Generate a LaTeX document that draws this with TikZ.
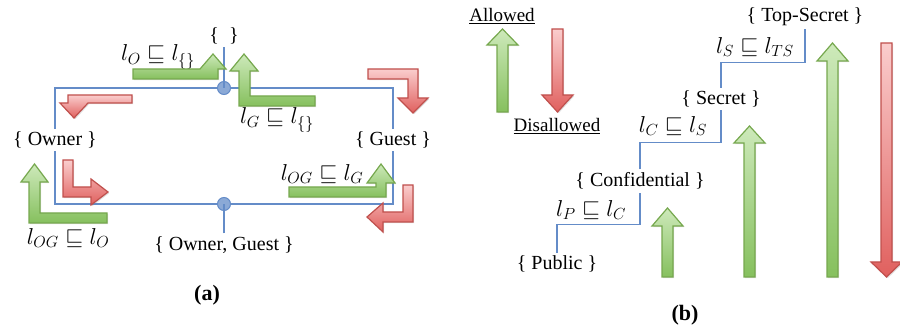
\RequirePackage{fix-cm}
\documentclass[tikz,border=0pt]{standalone}
\usepackage{fontspec}
\setmainfont{Liberation Serif}
\usetikzlibrary{shadows}
\definecolor{latblue}{RGB}{100,140,200}
\definecolor{grnline}{RGB}{118,168,78}
\definecolor{grnlight}{RGB}{205,233,186}
\definecolor{grndark}{RGB}{134,192,94}
\definecolor{redline}{RGB}{192,80,77}
\definecolor{redlight}{RGB}{250,205,205}
\definecolor{reddark}{RGB}{224,96,94}

\tikzset{
  okarrow/.style={draw=grnline, line width=1.2pt, top color=grnlight, bottom color=grndark,
    drop shadow={shadow xshift=1.2pt, shadow yshift=-1.2pt, opacity=0.25}},
  noarrow/.style={draw=redline, line width=1.2pt, top color=redlight, bottom color=reddark,
    drop shadow={shadow xshift=1.2pt, shadow yshift=-1.2pt, opacity=0.25}},
  lattice/.style={draw=latblue, line width=1.7pt},
  joint/.style={circle, draw=latblue, fill=latblue!75, line width=1pt, minimum size=13pt, inner sep=0pt},
  level/.style={font=\fontsize{20}{22}\selectfont, inner sep=3pt},
  order/.style={font=\fontsize{23}{25}\selectfont, inner sep=0pt},
  caption/.style={font=\fontsize{22}{24}\selectfont\bfseries}
}

\begin{document}
\begin{tikzpicture}[x=1pt,y=-1pt]
  \useasboundingbox (0,0) rectangle (900,331);
  % (a) lattice of owner sets
  \node[level] (empty) at (224,36) {\{\ \ \}};
  \node[level] (owner) at (55,140) {\{ Owner \}};
  \node[level] (guest) at (393,140) {\{ Guest \}};
  \node[level] (both) at (224,245) {\{ Owner, Guest \}};
  \coordinate (topjoin) at (224,88);
  \coordinate (botjoin) at (224,204);
  \draw[lattice] (owner.north) |- (topjoin) -| (guest.north);
  \draw[lattice] (owner.south) |- (botjoin) -| (guest.south);
  \node[joint] (topdot) at (topjoin) {};
  \node[joint] (botdot) at (botjoin) {};
  \draw[lattice] (empty.south) -- (topdot.center);
  \draw[lattice] (both.north) -- (botdot.center);
  \node[order] at (158,57) {$l_O \sqsubseteq l_{\{\}}$};
  \node[order] at (277,120) {$l_G \sqsubseteq l_{\{\}}$};
  \node[order] at (322,174) {$l_{OG} \sqsubseteq l_G$};
  \node[order] at (68,238) {$l_{OG} \sqsubseteq l_O$};
  % bent arrows, green = allowed flow
  \draw[okarrow] (133,69)--(200,69)--(213,54)--(226,69)--(218,69)--(218,79)--(133,79)--cycle;
  \draw[okarrow] (244,54)--(258,71)--(250,71)--(250,96)--(315,96)--(315,106)--(239,106)--(239,71)--(230,71)--cycle;
  \draw[okarrow] (34.5,164)--(48,182)--(40,182)--(40,213)--(107,213)--(107,223)--(29,223)--(29,182)--(21,182)--cycle;
  \draw[okarrow] (289,187)--(376,187)--(376,183)--(367,183)--(381,164)--(395,183)--(386,183)--(386,197)--(289,197)--cycle;
  % bent arrows, red = disallowed flow
  \draw[noarrow] (368,69)--(418,69)--(418,98)--(428,98)--(413,113)--(398,98)--(408,98)--(408,79)--(368,79)--cycle;
  \draw[noarrow] (132,95)--(68,95)--(68,103)--(60,103)--(74,118)--(88,103)--(132,103)--cycle;
  \draw[noarrow] (63,160)--(73,160)--(73,187)--(91,187)--(91,179)--(108,192)--(91,205)--(91,197)--(63,197)--cycle;
  \draw[noarrow] (403,185)--(413,185)--(413,222)--(383,222)--(383,232)--(367,217)--(383,203)--(383,212)--(403,212)--cycle;
  \node[caption] (capa) at (207,295) {(a)};

  % (b) chain of security levels
  \node[level] (topsecret) at (805,17) {\{ Top-Secret \}};
  \node[level] (secret) at (721,99) {\{ Secret \}};
  \node[level] (confid) at (640,181) {\{ Confidential \}};
  \node[level] (public) at (557,264) {\{ Public \}};
  \draw[lattice] (public.north) --++(0,-28) -| (confid.south);
  \draw[lattice] (confid.north) --++(0,-27) -| (secret.south);
  \draw[lattice] (secret.north) --++(0,-25) -| (topsecret.south);
  \node[order] at (755,47) {$l_S \sqsubseteq l_{TS}$};
  \node[order] at (673,126) {$l_C \sqsubseteq l_S$};
  \node[order] at (591,210) {$l_P \sqsubseteq l_C$};
  \node[level,font=\fontsize{19}{21}\selectfont] (allowed) at (502,16) {\underline{Allowed}};
  \node[level,font=\fontsize{19}{21}\selectfont] (disallowed) at (557,126) {\underline{Disallowed}};
  \draw[okarrow] (497,112) --++(0,-67) --++(-10,0) --++(15.5,-16) --++(15.5,16) --++(-10,0) --++(0,67) --cycle;
  \draw[noarrow] (552,29) --++(0,66) --++(-10,0) --++(15.5,17) --++(15.5,-17) --++(-10,0) --++(0,-66) --cycle;
  \draw[okarrow] (662,277) --++(0,-51) --++(-10,0) --++(15.5,-18) --++(15.5,18) --++(-10,0) --++(0,51) --cycle;
  \draw[okarrow] (744,277) --++(0,-134) --++(-10,0) --++(15.5,-17) --++(15.5,17) --++(-10,0) --++(0,134) --cycle;
  \draw[okarrow] (827,277) --++(0,-216) --++(-10,0) --++(15.5,-18) --++(15.5,18) --++(-10,0) --++(0,216) --cycle;
  \draw[noarrow] (881,43) --++(0,219) --++(-10,0) --++(15.5,15) --++(15.5,-15) --++(-10,0) --++(0,-219) --cycle;
  \node[caption] (capb) at (685,315) {(b)};
\end{tikzpicture}
\end{document}
